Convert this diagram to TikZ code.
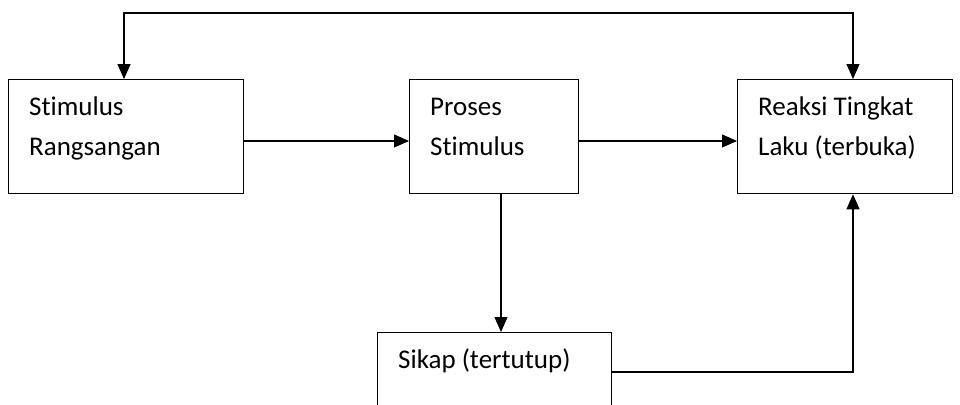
\documentclass[tikz,border=0pt]{standalone}
\usepackage{fontspec}
\setmainfont{Carlito}[Ligatures={NoCommon,NoRare}]
\usetikzlibrary{arrows.meta,calc}
\begin{document}
\begin{tikzpicture}[x=1pt,y=-1pt,
  box/.style={draw,line width=1.3pt,rectangle,inner sep=0pt,anchor=north west},
  lbl/.style={anchor=base west,inner sep=0pt,align=left,
    font=\fontsize{27}{40}\selectfont},
  tip/.style={Triangle[length=15pt,width=13pt]},
  flow/.style={line width=1.1pt,-{Triangle[length=15pt,width=13pt]}},
  flow2/.style={line width=1.1pt,{Triangle[length=15pt,width=13pt]}-{Triangle[length=15pt,width=13pt]}}]
\useasboundingbox (0,0) rectangle (960,404);
\clip (0,0) rectangle (960,404);
% boxes
\node[box,minimum width=235pt,minimum height=114pt] (b1) at (8,79) {};
\node[box,minimum width=169pt,minimum height=114pt] (b2) at (409,79) {};
\node[box,minimum width=215pt,minimum height=114pt] (b3) at (737,79) {};
\node[box,minimum width=234pt,minimum height=100pt] (b4) at (377,332) {};
% labels
\node[lbl] (t1a) at ($(b1.north west)+(21,36)$) {Stimulus};
\node[lbl] (t1b) at ($(b1.north west)+(21,76)$) {Rangsangan};
\node[lbl] (t2a) at ($(b2.north west)+(21,36)$) {Proses};
\node[lbl] (t2b) at ($(b2.north west)+(21,76)$) {Stimulus};
\node[lbl] (t3a) at ($(b3.north west)+(21,36)$) {Reaksi Tingkat};
\node[lbl] (t3b) at ($(b3.north west)+(21,76)$) {Laku (terbuka)};
\node[lbl] (t4) at ($(b4.north west)+(21,36)$) {Sikap (tertutup)};
% connectors
\coordinate (tl) at (124,13);
\coordinate (tr) at (853,13);
\coordinate (br) at (853,372);
\coordinate (m1) at ($(b1.north east)+(0,62)$);
\coordinate (m2) at ($(b2.north east)+(0,62)$);
\coordinate (d2) at ($(b2.south west)+(92,0)$);
\coordinate (s4) at (b4.east |- br);
\draw[flow2] (b1.north -| tl) -- (tl) -- (tr) -- (b3.north -| tr);
\draw[flow] (m1) -- (b2.west |- m1);
\draw[flow] (m2) -- (b3.west |- m2);
\draw[flow] (d2) -- (b4.north -| d2);
\draw[flow] (s4) -- (br) -- (b3.south -| br);
\end{tikzpicture}
\end{document}
